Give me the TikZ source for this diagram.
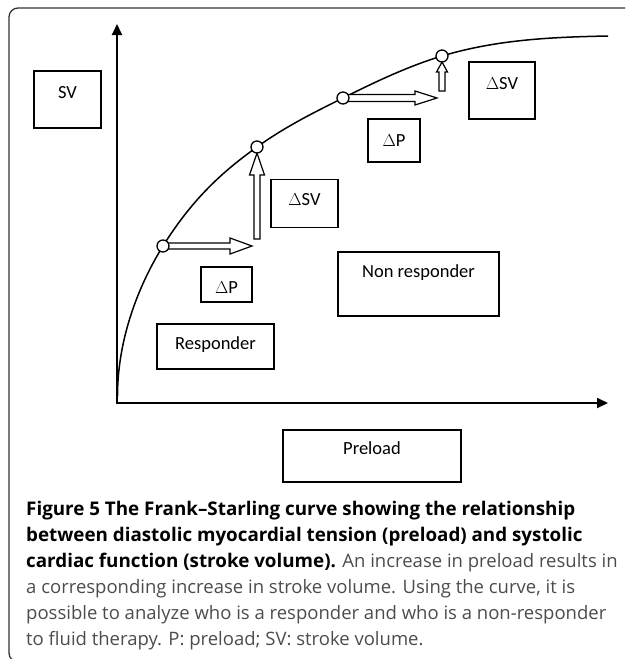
\documentclass[tikz,border=0pt]{standalone}
\usepackage{fontspec}
\setmainfont{Open Sans}
\newfontfamily\boxfont{Carlito}
\usetikzlibrary{arrows.meta,calc}
\newcommand\hollowH[5]{% start, tip, shaft half, head half, head length
  \draw[hollowarr] ($(#1)+(0,#3)$) -- ($(#2)+(-#5,#3)$) -- ($(#2)+(-#5,#4)$) -- (#2)
    -- ($(#2)+(-#5,-#4)$) -- ($(#2)+(-#5,-#3)$) -- ($(#1)+(0,-#3)$);}
\newcommand\hollowV[5]{% bottom, tip, shaft half, head half, head length
  \draw[hollowarr] ($(#1)+(-#3,0)$) -- ($(#2)+(-#3,#5)$) -- ($(#2)+(-#4,#5)$) -- (#2)
    -- ($(#2)+(#4,#5)$) -- ($(#2)+(#3,#5)$) -- ($(#1)+(#3,0)$) -- cycle;}
\newcommand\capbold[1]{{\fontsize{18.8}{26}\selectfont\bfseries #1}}
\begin{document}
\begin{tikzpicture}[x=1pt,y=-1pt,
  box/.style={draw, line width=1.3pt, inner sep=0pt, font=\boxfont\fontsize{18.5}{20}\selectfont},
  dot/.style={circle, draw, line width=1.3pt, fill=white, inner sep=0pt, minimum size=12pt},
  hollowarr/.style={draw, line width=1.2pt, fill=white, line join=miter},
  axis/.style={line width=2pt, line cap=rect, -{Triangle[length=11pt,width=10pt]}},
  capline/.style={anchor=base west, inner sep=0pt, font=\fontsize{18.5}{26}\selectfont}]
\useasboundingbox (0,0) rectangle (625,659);
\begin{scope}
  \clip (0,0) rectangle (625,659);
  \draw[line width=1.3pt, black!80, rounded corners=9pt] (9,8) rectangle (720,662);
\end{scope}

% axes
\coordinate (O) at (117,403);
\coordinate (ytip) at (117,24);
\coordinate (xtip) at (608,403);
\draw[axis] (O) -- (ytip);
\draw[axis] (O) -- (xtip);

% curve
\coordinate (c0) at (117.5,396);
\coordinate (p1) at (163,246);
\coordinate (p2) at (257,147);
\coordinate (p3) at (343,98);
\coordinate (p4) at (442,56);
\coordinate (cend) at (608,36);
\draw[line width=1.5pt] (c0) .. controls (117.5,340) and (138,286) .. (p1)
  .. controls (194.3,195.9) and (225.7,169.5) .. (p2)
  .. controls (285.7,126.4) and (314.3,112.3) .. (p3)
  .. controls (376,81.5) and (409,65.9) .. (p4)
  .. controls (497.3,39.4) and (552.7,37.1) .. (cend);

% hollow arrows
\coordinate (h1tip) at (252,246);
\coordinate (v1bot) at (257,239);
\coordinate (v1tip) at (257,153);
\coordinate (h2tip) at (437,98);
\coordinate (v2bot) at (442,91);
\coordinate (v2tip) at (442,62);
\hollowH{p1}{h1tip}{3}{8}{22}
\hollowV{v1bot}{v1tip}{3}{7.5}{22}
\hollowH{p3}{h2tip}{3.5}{7}{22}
\hollowV{v2bot}{v2tip}{3}{5.5}{10}

% circles on the curve
\node[dot] (d1) at (p1) {};
\node[dot] (d2) at (p2) {};
\node[dot] (d3) at (p3) {};
\node[dot] (d4) at (p4) {};

% boxes
\node[box, minimum width=67pt, text height=27pt, text depth=30pt] (sv) at (67.5,99.5) {SV};
\node[box, minimum width=67pt, text height=26pt, text depth=22pt] (dsv1) at (304.5,203.5) {$\Delta$SV};
\node[box, minimum width=51pt, text height=26pt, text depth=9pt] (dp1) at (226.5,284.5) {$\Delta$P};
\node[box, minimum width=117pt, text height=25pt, text depth=20pt] (resp) at (215.5,346.5) {Responder};
\node[box, minimum width=161pt, text height=25pt, text depth=39pt] (nonresp) at (418.5,284) {Non responder};
\node[box, minimum width=178pt, text height=24pt, text depth=28pt] (preload) at (372,456) {Preload};
\node[box, minimum width=52pt, text height=27pt, text depth=16pt] (dp2) at (394,140.5) {$\Delta$P};
\node[box, minimum width=66pt, text height=27pt, text depth=30pt] (dsv2) at (502,90.5) {$\Delta$SV};

% caption
\node[capline] (cap1) at (26,515.5) {\capbold{Figure 5 The Frank--Starling curve showing the relationship}};
\node[capline] (cap2) at (26,541.5) {\capbold{between diastolic myocardial tension (preload) and systolic}};
\node[capline] (cap3) at (26,567.5) {\capbold{cardiac function (stroke volume).} \color{black!70}An increase in preload results in};
\node[capline, text=black!70] (cap4) at (26,593.3) {a corresponding increase in stroke volume. Using the curve, it is};
\node[capline, text=black!70] (cap5) at (26,619.2) {possible to analyze who is a responder and who is a non-responder};
\node[capline, text=black!70] (cap6) at (26,645) {to fluid therapy. P: preload; SV: stroke volume.};
\end{tikzpicture}
\end{document}
